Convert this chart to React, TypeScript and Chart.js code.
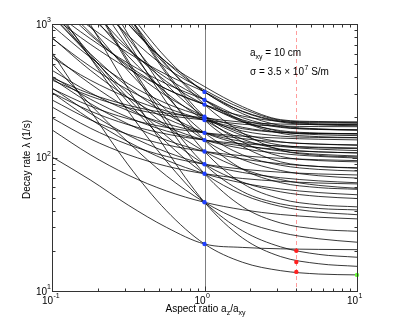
import { useEffect, useRef } from 'react';
import { Chart, registerables } from 'chart.js';

Chart.register(...registerables);

// Aspect ratio a_z / a_xy sample positions (quarter decades)
const aspectRatios = [0.1, 0.178, 0.316, 0.562, 1, 1.78, 3.16, 5.62, 10];

// Decay rate curves λ (1/s) at the aspect ratios above
const mode01 = [101, 68, 44, 30, 22.5, 21.2, 20.7, 20.5, 20.4];
const mode02 = [612, 226, 88, 40, 22.5, 16.4, 14.2, 13.4, 13.2];
const mode03 = [161, 105, 73.8, 56.2, 46.2, 40.6, 37.4, 35.7, 34.7];
const mode04 = [3135, 1000, 327, 114, 46.2, 24.9, 18.1, 16.0, 15.3];
const mode05 = [1465, 560, 222, 94, 46.2, 28.2, 21.4, 18.8, 17.9];
const mode06 = [505, 250, 130, 73, 46.2, 33.4, 27.4, 24.6, 23.2];
const mode07 = [198, 138, 105, 86.2, 75.6, 69.6, 66.3, 64.4, 63.4];
const mode08 = [4838, 1548, 508, 180, 75.6, 42.7, 32.3, 29.0, 28.0];
const mode09 = [1287, 563, 259, 130, 75.6, 52.7, 43.0, 39.0, 37.3];
const mode10 = [306, 194, 131, 95.6, 75.6, 64.4, 58.1, 54.6, 52.6];
const mode11 = [239, 166, 125, 102, 89, 81.7, 77.6, 75.3, 74.0];
const mode12 = [4940, 1588, 530, 195, 89, 55.5, 44.9, 41.5, 40.5];
const mode13 = [1344, 593, 278, 145, 89, 65.3, 55.3, 51.1, 49.3];
const mode14 = [332, 214, 147, 110, 89, 77.2, 70.5, 66.8, 64.7];
const mode15 = [270, 192, 149, 124.5, 111, 103, 98.6, 96.2, 94.8];
const mode16 = [6942, 2222, 732, 260, 111, 63.8, 48.9, 44.2, 42.7];
const mode17 = [1153, 575, 302, 172, 111, 82, 68.3, 61.8, 58.8];
const mode18 = [390, 254, 178, 135, 111, 97.4, 89.8, 85.5, 83.1];
const mode19 = [306, 223, 176, 150, 135, 126.7, 122, 119.4, 117.9];
const mode20 = [7857, 2522, 837, 303, 135, 81.6, 64.8, 59.5, 57.8];
const mode21 = [2185, 959, 445, 227, 135, 96.3, 79.9, 73.0, 70.1];
const mode22 = [405, 274, 200, 158, 135, 122, 114.5, 110.3, 108];
const mode23 = [587, 357, 234, 170, 135, 116.7, 107, 101.9, 99.1];
const mode24 = [328, 243, 195, 168, 153, 144.5, 139.7, 137, 135.5];
const mode25 = [4810, 1758, 674, 290, 153, 104.6, 87.5, 81.4, 79.2];
const mode26 = [1157, 600, 337, 212, 153, 125, 111.9, 105.6, 102.7];
const mode27 = [450, 306, 224, 179, 153, 138.5, 130.4, 125.9, 123.3];
const mode28 = [791, 451, 281, 196, 153, 131.5, 120.8, 115.4, 112.7];
const mode29 = [380, 288, 236, 207, 191, 177.4, 171.9, 170.5, 170.1];
const mode30 = [10883, 3496, 1163, 424, 191, 120.8, 92.7, 85.7, 83.8];
const mode31 = [2731, 1212, 574, 305, 191, 137, 115.5, 110.1, 108.6];
const mode32 = [560, 380, 280, 223, 191, 164.4, 153.7, 151, 150.3];
const mode33 = [782, 481, 321, 236, 191, 157.9, 144.6, 141.3, 140.4];
const mode34 = [396, 300, 246, 215, 198, 183.7, 178, 176.6, 176.2];
const mode35 = [5416, 1998, 783, 353, 202, 146, 123.7, 118.2, 116.6];
const mode36 = [1680, 860, 473, 289, 202, 151.3, 131, 126, 124.5];
const mode37 = [11092, 3568, 1192, 440, 202, 130.5, 101.9, 94.8, 92.8];
const mode38 = [974, 563, 357, 254, 202, 168.2, 154.7, 151.3, 150.4];
const mode39 = [2972, 1344, 660, 371, 249, 191.2, 168, 162.2, 160.6];
const mode40 = [1140, 706, 463, 326, 249, 184.7, 158.9, 152.5, 150.7];
const mode41 = [7565, 2901, 1155, 496, 249, 152.2, 113.4, 103.7, 101];
const mode42 = [1557, 831, 488, 326, 249, 204.2, 186.2, 181.7, 180.5];
const mode43 = [2126, 1137, 642, 395, 270, 188.8, 156.3, 148.1, 145.9];
const mode44 = [6653, 2584, 1060, 486, 270, 185.5, 151.7, 143.3, 140.9];
const mode45 = [1260, 778, 508, 356, 270, 198.5, 169.9, 162.8, 160.8];
const mode46 = [8694, 3199, 1247, 556, 310, 222, 187, 178.4, 175.9];
const mode47 = [1552, 948, 608, 418, 310, 220.3, 184.4, 175.5, 173];
const mode48 = [4900, 2155, 1003, 516, 310, 212.5, 173.5, 163.8, 161];
const mode49 = [6000, 2400, 1000, 520, 340, 240, 192, 186, 185];
const mode50 = [3500, 1600, 820, 470, 320, 232, 190, 184, 182.5];

const decayModes = [
  mode01, mode02, mode03, mode04, mode05, mode06, mode07, mode08, mode09, mode10,
  mode11, mode12, mode13, mode14, mode15, mode16, mode17, mode18, mode19, mode20,
  mode21, mode22, mode23, mode24, mode25, mode26, mode27, mode28, mode29, mode30,
  mode31, mode32, mode33, mode34, mode35, mode36, mode37, mode38, mode39, mode40,
  mode41, mode42, mode43, mode44, mode45, mode46, mode47, mode48, mode49, mode50,
];

// Marked points
const cubeRatio = 1;
const cubeRates = [310, 270, 249, 202, 198, 191, 153, 135, 111, 89, 75.6, 46.2, 22.5];
const dashedRatio = 4;
const dashedRates = [20.0, 16.5, 13.9];
const endRatio = 10;
const endRates = [13.2];

// Axis ticks
const xMajorTicks = [0.1, 1, 10];
const xTickExponents = ['-1', '0', '1'];
const yMajorTicks = [10, 100, 1000];
const yTickExponents = ['1', '2', '3'];
const minorMultipliers = [2, 3, 4, 5, 6, 7, 8, 9];

const xTitleParts = ['Aspect ratio a', 'z', '/a', 'xy'];
const yTitle = 'Decay rate \u03bb (1/s)';
const noteLine1 = ['a', 'xy', ' = 10 cm'];
const noteLine2 = ['\u03c3 = 3.5 \u00d7 10', '7', ' S/m'];

const FONT = '"Liberation Sans", Arial, Helvetica, sans-serif';
const f = (px: number) => `${px}px ${FONT}`;

const decorPlugin = {
  id: 'decor',
  beforeDatasetsDraw(chart: any) {
    const { ctx, chartArea: a, scales } = chart;
    const xs = scales.x;
    ctx.save();
    const x1 = Math.round(xs.getPixelForValue(cubeRatio)) + 0.5;
    ctx.strokeStyle = '#808080';
    ctx.lineWidth = 1;
    ctx.beginPath();
    ctx.moveTo(x1, a.top);
    ctx.lineTo(x1, a.bottom);
    ctx.stroke();
    const x4 = Math.round(xs.getPixelForValue(dashedRatio)) + 0.5;
    ctx.strokeStyle = '#ff9c9c';
    ctx.setLineDash([4, 3]);
    ctx.beginPath();
    ctx.moveTo(x4, a.top);
    ctx.lineTo(x4, a.bottom);
    ctx.stroke();
    ctx.restore();
  },
  afterDraw(chart: any) {
    const { ctx, chartArea: a, scales } = chart;
    const xs = scales.x;
    const ys = scales.y;
    ctx.save();
    const L = Math.round(a.left) + 0.5;
    const R = Math.round(a.right) + 0.5;
    const T = Math.round(a.top) + 0.5;
    const B = Math.round(a.bottom) + 0.5;
    ctx.strokeStyle = '#333';
    ctx.lineWidth = 1;
    ctx.strokeRect(L, T, R - L, B - T);

    const major = 5;
    const minor = 3;
    ctx.beginPath();
    const xTick = (v: number, len: number) => {
      const px = Math.round(xs.getPixelForValue(v)) + 0.5;
      ctx.moveTo(px, B);
      ctx.lineTo(px, B - len);
      ctx.moveTo(px, T);
      ctx.lineTo(px, T + len);
    };
    const yTick = (v: number, len: number) => {
      const py = Math.round(ys.getPixelForValue(v)) + 0.5;
      ctx.moveTo(L, py);
      ctx.lineTo(L + len, py);
      ctx.moveTo(R, py);
      ctx.lineTo(R - len, py);
    };
    xMajorTicks.forEach((v, i) => {
      xTick(v, major);
      if (i < xMajorTicks.length - 1) minorMultipliers.forEach((m) => xTick(v * m, minor));
    });
    yMajorTicks.forEach((v, i) => {
      yTick(v, major);
      if (i < yMajorTicks.length - 1) minorMultipliers.forEach((m) => yTick(v * m, minor));
    });
    ctx.stroke();

    ctx.fillStyle = '#000';
    yMajorTicks.forEach((v, i) => {
      const py = ys.getPixelForValue(v);
      ctx.font = f(10);
      ctx.textAlign = 'right';
      ctx.textBaseline = 'middle';
      ctx.fillText('10', a.left - 5, py + 1);
      ctx.font = f(7);
      ctx.textAlign = 'left';
      ctx.fillText(yTickExponents[i], a.left - 5, py - 3.5);
    });
    xMajorTicks.forEach((v, i) => {
      const px = xs.getPixelForValue(v);
      ctx.font = f(10);
      ctx.textAlign = 'right';
      ctx.textBaseline = 'middle';
      ctx.fillText('10', px + 1, a.bottom + 10);
      ctx.font = f(7);
      ctx.textAlign = 'left';
      ctx.fillText(xTickExponents[i], px + 1.5, a.bottom + 5);
    });

    ctx.textAlign = 'left';
    ctx.textBaseline = 'alphabetic';
    const parts = xTitleParts.map((t, i) => ({ t, sub: i % 2 === 1 }));
    let total = 0;
    parts.forEach((p) => {
      ctx.font = f(p.sub ? 7 : 10);
      total += ctx.measureText(p.t).width;
    });
    let cx = (a.left + a.right) / 2 - total / 2 + 1;
    const baseY = a.bottom + 21;
    parts.forEach((p) => {
      ctx.font = f(p.sub ? 7 : 10);
      ctx.fillText(p.t, cx, baseY + (p.sub ? 3 : 0));
      cx += ctx.measureText(p.t).width;
    });

    ctx.save();
    ctx.translate(27, (a.top + a.bottom) / 2 + 2);
    ctx.rotate(-Math.PI / 2);
    ctx.font = f(10);
    ctx.textAlign = 'center';
    ctx.textBaseline = 'middle';
    ctx.fillText(yTitle, 0, 0);
    ctx.restore();

    ctx.textAlign = 'left';
    ctx.textBaseline = 'alphabetic';
    let nx = 250;
    ctx.font = f(10);
    ctx.fillText(noteLine1[0], nx, 55.5);
    nx += ctx.measureText(noteLine1[0]).width;
    ctx.font = f(7);
    ctx.fillText(noteLine1[1], nx, 59);
    nx += ctx.measureText(noteLine1[1]).width;
    ctx.font = f(10);
    ctx.fillText(noteLine1[2], nx, 55.5);

    nx = 250;
    ctx.font = f(10);
    ctx.fillText(noteLine2[0], nx, 75);
    nx += ctx.measureText(noteLine2[0]).width;
    ctx.font = f(7);
    ctx.fillText(noteLine2[1], nx + 0.5, 70);
    nx += ctx.measureText(noteLine2[1]).width + 0.5;
    ctx.font = f(10);
    ctx.fillText(noteLine2[2], nx, 75);

    ctx.restore();
  },
};

export default function App() {
  const ref = useRef<HTMLCanvasElement>(null);
  useEffect(() => {
    if (!ref.current) return;
    const pointSet = (x: number, ys: number[], color: string) => ({
      type: 'scatter' as const,
      data: ys.map((y) => ({ x, y })),
      backgroundColor: color,
      borderColor: color,
      borderWidth: 0,
      pointRadius: 2.2,
      showLine: false,
      clip: false,
    });
    const curveSets = decayModes.map((m) => ({
      type: 'line' as const,
      data: aspectRatios.map((x, i) => ({ x, y: m[i] })),
      borderColor: 'rgba(0,0,0,0.78)',
      borderWidth: 1,
      pointRadius: 0,
      fill: false,
      cubicInterpolationMode: 'monotone' as const,
    }));
    const chart = new Chart(ref.current, {
      type: 'line',
      data: {
        datasets: [
          pointSet(endRatio, endRates, '#66ff33'),
          pointSet(dashedRatio, dashedRates, '#ff2020'),
          pointSet(cubeRatio, cubeRates, '#2040ff'),
          ...curveSets,
        ] as any,
      },
      options: {
        animation: false,
        responsive: false,
        events: [],
        layout: { padding: { left: 52, right: 38, top: 24, bottom: 36 } },
        elements: { line: { capBezierPoints: false } },
        plugins: { legend: { display: false }, tooltip: { enabled: false } },
        scales: {
          x: { type: 'logarithmic', min: 0.1, max: 10, display: false },
          y: { type: 'logarithmic', min: 10, max: 1000, display: false },
        },
      },
      plugins: [decorPlugin],
    });
    return () => chart.destroy();
  }, []);
  return (
    <div style={{ position: 'fixed', left: 0, top: 0, width: 395, height: 327, background: '#fff' }}>
      <canvas ref={ref} width={395} height={327} />
    </div>
  );
}
